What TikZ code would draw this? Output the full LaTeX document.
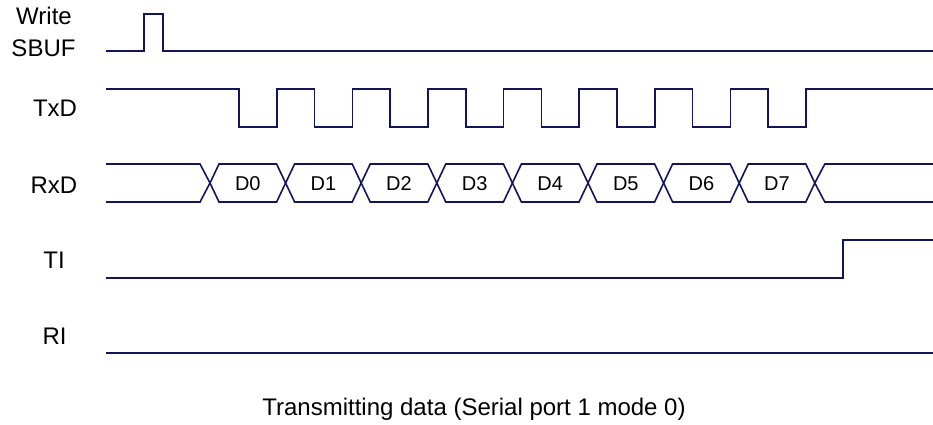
\documentclass[tikz,border=0pt]{standalone}
\usepackage{fontspec}
\setmainfont{Liberation Sans}
\definecolor{wave}{RGB}{20,20,90}
\begin{document}
\begin{tikzpicture}[x=1pt,y=-1pt,
  wavestyle/.style={draw=wave,line width=1.6pt,line join=miter},
  lbl/.style={font=\fontsize{24}{28}\selectfont,inner sep=0pt,anchor=base},
  dat/.style={font=\fontsize{20}{24}\selectfont,inner sep=0pt,anchor=base}]
\useasboundingbox (0,0) rectangle (933,425);
% labels
\node[lbl] (write) at (44,25) {Write};
\node[lbl] (sbuf) at (43.5,57) {SBUF};
\node[lbl] (txd) at (55,117) {TxD};
\node[lbl] (rxd) at (54,193) {RxD};
\node[lbl] (ti) at (54,268) {TI};
\node[lbl] (ri) at (54.5,344) {RI};
\node[lbl] (cap) at (474,415) {Transmitting data (Serial port 1 mode 0)};
% Write SBUF
\draw[wavestyle] (106,51) -- (144,51) -- (144,14) -- (163,14) -- (163,51) -- (933,51);
% TxD
\draw[wavestyle] (106,89)
  foreach \k in {0,...,7}{ -- ({239+75.6*\k},89) -- ({239+75.6*\k},127) -- ({276.7+75.6*\k},127) -- ({276.7+75.6*\k},89) }
  -- (933,89);
% RxD
\draw[wavestyle] (106,164) -- (200,164) -- (210,183) -- (200,202) -- (106,202);
\foreach \k in {0,...,7}{
  \pgfmathsetmacro\a{210+75.6*\k}
  \pgfmathsetmacro\b{\a+75.6}
  \draw[wavestyle] (\a,183) -- (\a+9,164) -- (\b-9,164) -- (\b,183) -- (\b-9,202) -- (\a+9,202) -- cycle;
  \node[dat] (d\k) at ({(\a+\b)/2},190.5) {D\k};
}
\draw[wavestyle] (933,164) -- (824.8,164) -- (814.8,183) -- (824.8,202) -- (933,202);
% TI
\draw[wavestyle] (106,278) -- (843,278) -- (843,240) -- (933,240);
% RI
\draw[wavestyle] (106,353) -- (933,353);
\end{tikzpicture}
\end{document}
